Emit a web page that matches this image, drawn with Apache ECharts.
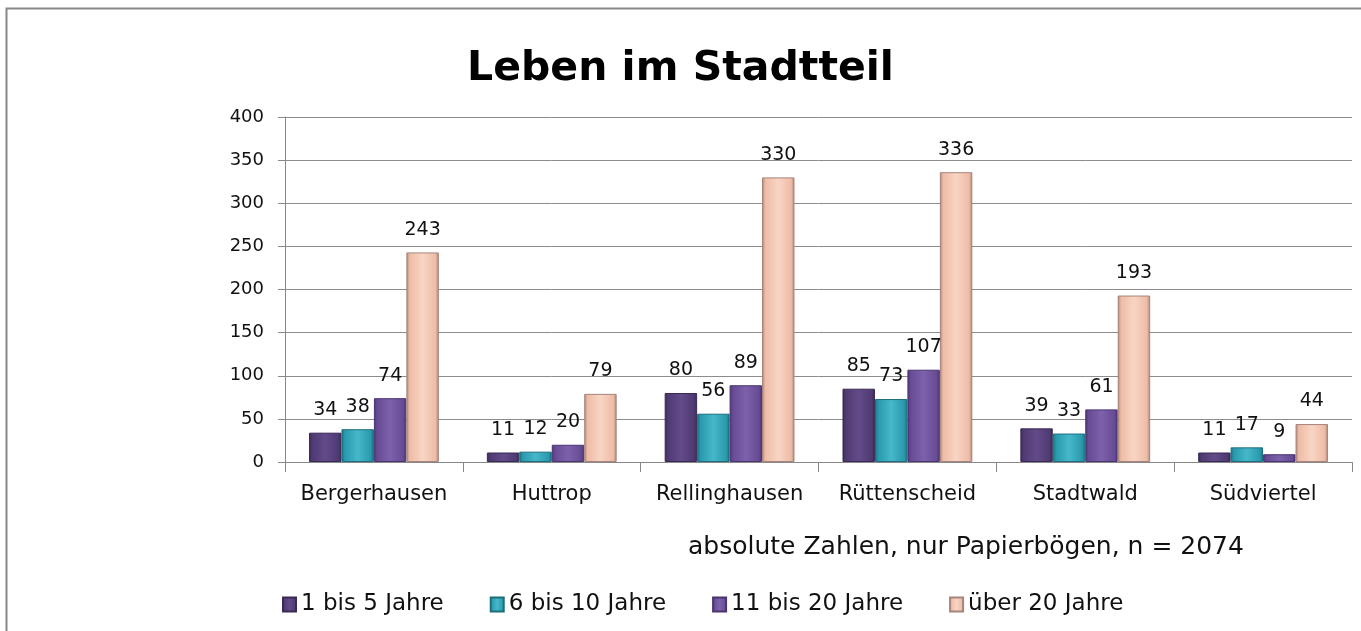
<!DOCTYPE html>
<html>
<head>
<meta charset="utf-8">
<script src="https://cdn.jsdelivr.net/npm/echarts@6/dist/echarts.min.js"></script>
<style>
html,body{margin:0;padding:0;background:#fff;}
#chart{width:1361px;height:631px;}
</style>
</head>
<body>
<div id="chart"></div>
<script>
var myChart = echarts.init(document.getElementById("chart"));//初始化
var stadtteile = ["Bergerhausen", "Huttrop", "Rellinghausen", "Rüttenscheid", "Stadtwald", "Südviertel"];
var jahre1bis5 = [34, 11, 80, 85, 39, 11];
var jahre6bis10 = [38, 12, 56, 73, 33, 17];
var jahre11bis20 = [74, 20, 89, 107, 61, 9];
var ueber20 = [243, 79, 330, 336, 193, 44];
var yTicks = [0, 50, 100, 150, 200, 250, 300, 350, 400];

function grad(dark, mid, light) {
    return new echarts.graphic.LinearGradient(0, 0, 1, 0, [
        {offset: 0, color: dark},
        {offset: 0.1, color: mid},
        {offset: 0.5, color: light},
        {offset: 0.9, color: mid},
        {offset: 1, color: dark}
    ]);
}

function serie(name, data, dark, mid, light) {
    return {
        name: name,
        type: 'bar',
        data: data,
        barGap: '0%',
        barCategoryGap: '27%',
        itemStyle: {color: grad(dark, mid, light), borderColor: dark, borderWidth: 1},
        label: {show: true, position: 'top', distance: 13, color: '#111', fontSize: 19, fontFamily: 'DejaVu Sans'}
    };
}

var option = {
    animation: false,
    textStyle: {fontFamily: 'DejaVu Sans'},
    title: {
        text: 'Leben im Stadtteil',
        left: 'center',
        top: 44,
        textStyle: {fontSize: 41, fontWeight: 'bold', color: '#000', fontFamily: 'DejaVu Sans'}
    },
    legend: {
        left: 277,
        top: 588,
        itemGap: 46,
        itemWidth: 13,
        itemHeight: 14,
        icon: 'rect',
        textStyle: {fontSize: 23, color: '#111', fontFamily: 'DejaVu Sans'}
    },
    grid: {left: 285, right: 9, top: 117, bottom: 169},
    xAxis: {
        type: 'category',
        data: stadtteile,
        axisLine: {lineStyle: {color: '#888'}},
        axisTick: {show: true, interval: 0, length: 10, lineStyle: {color: '#888'}},
        axisLabel: {interval: 0, fontSize: 21, color: '#111', margin: 22, fontFamily: 'DejaVu Sans'}
    },
    yAxis: {
        type: 'value',
        min: yTicks[0],
        max: yTicks[yTicks.length - 1],
        interval: 50,
        axisLine: {show: true, lineStyle: {color: '#888'}},
        axisTick: {show: true, length: 7, lineStyle: {color: '#888'}},
        axisLabel: {fontSize: 18, color: '#111', margin: 21},
        splitLine: {lineStyle: {color: '#8c8c8c'}}
    },
    graphic: [
        {type: 'rect', left: 4, top: 6, shape: {width: 1400, height: 700}, style: {fill: 'none', stroke: '#888', lineWidth: 2}, z: -1},
        {type: 'text', left: 688, top: 535, style: {text: 'absolute Zahlen, nur Papierbögen, n = 2074', fontSize: 25, fill: '#111', fontFamily: 'DejaVu Sans'}}
    ],
    series: [
        serie('1 bis 5 Jahre', jahre1bis5, '#3a2a55', '#4f3a72', '#634b8a'),
        serie('6 bis 10 Jahre', jahre6bis10, '#1b6e7c', '#2a99ad', '#45b8ca'),
        serie('11 bis 20 Jahre', jahre11bis20, '#4a3572', '#674b95', '#7d62ab'),
        serie('über 20 Jahre', ueber20, '#a8847a', '#eebca6', '#f8d5c4')
    ]
};
myChart.setOption(option);//绘制
</script>
</body>
</html>
